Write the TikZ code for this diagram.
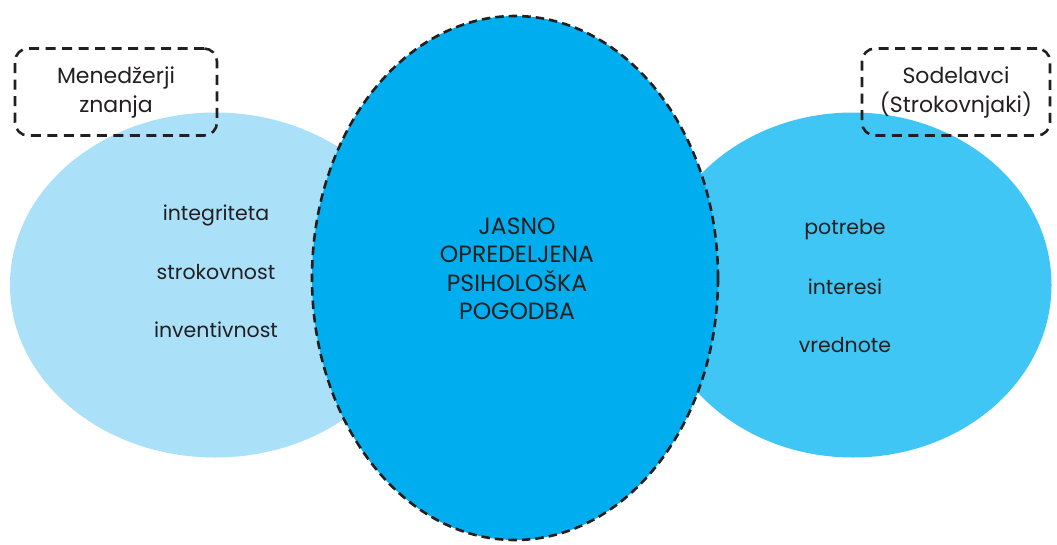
\documentclass[tikz,border=0pt]{standalone}
\usepackage{fontspec}
\setmainfont{Poppins}
\usetikzlibrary{shapes.geometric}
\definecolor{lightblue}{HTML}{ABE0F9}
\definecolor{midblue}{HTML}{40C6F4}
\definecolor{deepblue}{HTML}{00AEEF}
\definecolor{ink}{HTML}{231F20}
\tikzset{
  blob/.style={ellipse, inner sep=0pt, draw=none},
  dashbox/.style={draw=ink, line width=2.6pt, dash pattern=on 10pt off 6.5pt, rounded corners=13pt, minimum width=202pt, minimum height=87pt, align=center, font=\fontsize{22}{29}\selectfont, text=ink},
  word/.style={font=\fontsize{20.5}{24}\selectfont, text=ink, inner sep=0pt},
}
\begin{document}
\begin{tikzpicture}[x=1pt,y=-1pt]
\useasboundingbox (0,0) rectangle (1057,544);
\node[blob, fill=lightblue, minimum width=410pt, minimum height=345pt] (left) at (215,285) {};
\node[blob, fill=midblue, minimum width=397pt, minimum height=345pt] (right) at (853,285) {};
\node[blob, fill=deepblue, draw=ink, line width=2.6pt, dash pattern=on 8.5pt off 5pt, minimum width=406pt, minimum height=524pt] (center) at (515,278) {};
\node[align=center, text=ink, font=\fontsize{23.5}{28.5}\selectfont] (core) at (517,269) {JASNO\\OPREDELJENA\\PSIHOLOŠKA\\POGODBA};
\node[word] (w1) at (216,215) {integriteta};
\node[word] (w2) at (216,272) {strokovnost};
\node[word] (w3) at (216,330) {inventivnost};
\node[word] (w4) at (845,230) {potrebe};
\node[word] (w5) at (845,287) {interesi};
\node[word] (w6) at (845,345) {vrednote};
\node[dashbox] (mgr) at (116,92) {Menedžerji\\znanja};
\node[dashbox, minimum width=188pt] (col) at (956,92) {Sodelavci\\(Strokovnjaki)};
\end{tikzpicture}
\end{document}
